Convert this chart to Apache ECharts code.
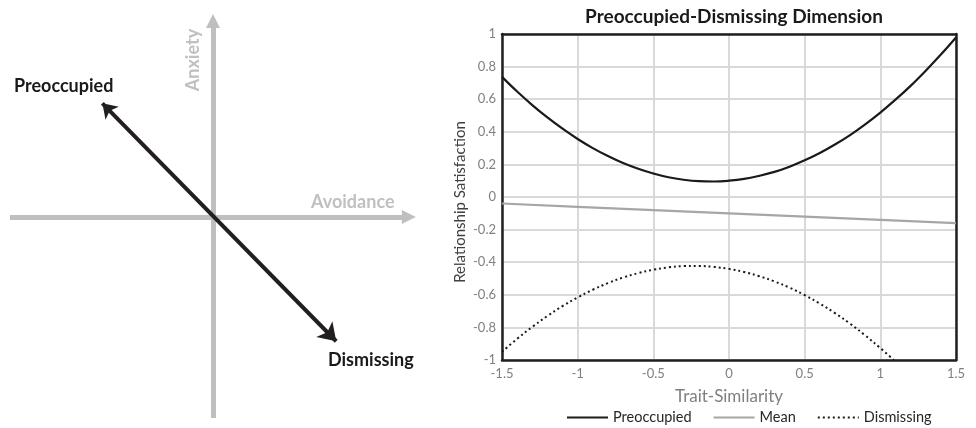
<!DOCTYPE html>
<html>
<head>
<meta charset="utf-8">
<script src="https://cdn.jsdelivr.net/npm/echarts@6/dist/echarts.min.js"></script>
<style>
html,body{margin:0;padding:0;background:#fff;}
#c{width:976px;height:428px;}
</style>
</head>
<body>
<div id="c"></div>
<script>
// ---- Data ----
var xValues = [-1.5, -1.4, -1.3, -1.2, -1.1, -1.0, -0.9, -0.8, -0.7, -0.6, -0.5, -0.4, -0.3, -0.2, -0.1,
               0, 0.1, 0.2, 0.3, 0.4, 0.5, 0.6, 0.7, 0.8, 0.9, 1.0, 1.1, 1.2, 1.3, 1.4, 1.5];
var preoccupied = [0.737, 0.647, 0.564, 0.488, 0.419, 0.356, 0.300, 0.251, 0.208, 0.173, 0.144, 0.121, 0.106, 0.097, 0.095,
                   0.100, 0.111, 0.130, 0.154, 0.186, 0.225, 0.270, 0.322, 0.380, 0.446, 0.518, 0.597, 0.682, 0.775, 0.874, 0.979];
var meanX = [-1.5, -1, -0.5, 0, 0.5, 1, 1.5];
var meanVals = [-0.04, -0.06, -0.08, -0.10, -0.12, -0.14, -0.16];
var dismissX = [-1.5, -1.4, -1.3, -1.2, -1.1, -1.0, -0.9, -0.8, -0.7, -0.6, -0.5, -0.4, -0.3, -0.2, -0.1,
                0, 0.1, 0.2, 0.3, 0.4, 0.5, 0.6, 0.7, 0.8, 0.9, 1.0, 1.09];
var dismissing = [-0.950, -0.870, -0.797, -0.730, -0.669, -0.616, -0.569, -0.528, -0.494, -0.467, -0.446, -0.432, -0.424, -0.423, -0.429,
                  -0.441, -0.460, -0.486, -0.518, -0.556, -0.602, -0.654, -0.712, -0.777, -0.849, -0.927, -1.0];
var xTickLabels = ['-1.5', '-1', '-0.5', '0', '0.5', '1', '1.5'];
var yTickLabels = ['-1', '-0.8', '-0.6', '-0.4', '-0.2', '0', '0.2', '0.4', '0.6', '0.8', '1'];
var seriesNames = ['Preoccupied', 'Mean', 'Dismissing'];

// Left conceptual diagram (logical coordinates, origin = centre of the two dimensions)
var avoidanceAxis = [[-1, 0], [0.965, 0]];
var anxietyAxis = [[0, -0.99], [0, 0.965]];
var dimensionArrow = [[-0.545, 0.56], [0.607, -0.612]];

function pairs(xs, ys) { return xs.map(function (x, i) { return [x, ys[i]]; }); }

var FONT = 'Lato';
var FRAME = '#231f20';
var frameAxis = {show: true, onZero: false, lineStyle: {color: FRAME, width: 2.5}};
var chart = echarts.init(document.getElementById('c'), null, {renderer: 'canvas'});
chart.setOption({
  animation: false,
  backgroundColor: '#ffffff',
  textStyle: {fontFamily: FONT},
  title: {
    text: 'Preoccupied-Dismissing Dimension',
    left: 729, top: 2, textAlign: 'center',
    textStyle: {fontFamily: FONT, fontWeight: 'bold', fontSize: 19, color: '#1a1a1a'}
  },
  legend: {
    data: seriesNames,
    left: 566, top: 410, padding: 0,
    itemWidth: 41, itemHeight: 10, itemGap: 21,
    itemStyle: {opacity: 0},
    textStyle: {fontFamily: FONT, fontSize: 14.5, color: '#262626'}
  },
  grid: [
    {left: 502, top: 34, width: 454, height: 326, show: false},
    {left: 10, top: 14, width: 406, height: 406, show: false}
  ],
  xAxis: [
    {
      gridIndex: 0, type: 'value', min: -1.5, max: 1.5, interval: 0.5,
      name: 'Trait-Similarity', nameLocation: 'middle', nameGap: 28,
      nameTextStyle: {fontFamily: FONT, fontSize: 17, color: '#808080'},
      axisLine: frameAxis, axisTick: {show: false},
      axisLabel: {
        margin: 7, color: '#808080', fontSize: 13, fontFamily: FONT,
        formatter: function (v) { var i = Math.round((v + 1.5) / 0.5); return xTickLabels[i]; }
      },
      splitLine: {show: true, lineStyle: {color: '#d9d9d9', width: 2}}, z: 3
    },
    {gridIndex: 1, type: 'value', min: -1, max: 1, show: false},
    {
      gridIndex: 0, type: 'value', min: -1.5, max: 1.5, position: 'top',
      axisLine: frameAxis, axisTick: {show: false}, axisLabel: {show: false}, splitLine: {show: false}, z: 3
    }
  ],
  yAxis: [
    {
      gridIndex: 0, type: 'value', min: -1, max: 1, interval: 0.2,
      name: 'Relationship Satisfaction', nameLocation: 'middle', nameGap: 34,
      nameTextStyle: {fontFamily: FONT, fontSize: 15, color: '#404040', padding: [0, 10, 0, 0]},
      axisLine: frameAxis, axisTick: {show: false},
      axisLabel: {
        margin: 6, color: '#808080', fontSize: 13, fontFamily: FONT,
        formatter: function (v) { var i = Math.round((v + 1) / 0.2); return yTickLabels[i]; }
      },
      splitLine: {show: true, lineStyle: {color: '#d9d9d9', width: 2}}, z: 3
    },
    {gridIndex: 1, type: 'value', min: -1, max: 1, show: false},
    {
      gridIndex: 0, type: 'value', min: -1, max: 1, position: 'right',
      axisLine: frameAxis, axisTick: {show: false}, axisLabel: {show: false}, splitLine: {show: false}, z: 3
    }
  ],
  series: [
    {
      name: seriesNames[0], type: 'line', xAxisIndex: 0, yAxisIndex: 0,
      data: pairs(xValues, preoccupied), smooth: 0.4, symbol: 'none',
      lineStyle: {color: '#1a1a1a', width: 2.2}, itemStyle: {color: '#1a1a1a'}, z: 5
    },
    {
      name: seriesNames[1], type: 'line', xAxisIndex: 0, yAxisIndex: 0,
      data: pairs(meanX, meanVals), smooth: false, symbol: 'none',
      lineStyle: {color: '#a6a6a6', width: 2.2}, itemStyle: {color: '#a6a6a6'}, z: 4
    },
    {
      name: seriesNames[2], type: 'line', xAxisIndex: 0, yAxisIndex: 0,
      data: pairs(dismissX, dismissing), smooth: 0.4, symbol: 'none',
      lineStyle: {color: '#1a1a1a', width: 2, type: [2, 3]}, itemStyle: {color: '#1a1a1a'}, z: 5
    },
    {
      type: 'lines', coordinateSystem: 'cartesian2d', xAxisIndex: 1, yAxisIndex: 1,
      symbol: ['none', 'triangle'], symbolSize: [15, 14],
      lineStyle: {color: '#bfbfbf', width: 5, opacity: 1, curveness: 0},
      data: [{coords: avoidanceAxis}, {coords: anxietyAxis}], z: 2
    },
    {
      type: 'lines', coordinateSystem: 'cartesian2d', xAxisIndex: 1, yAxisIndex: 1,
      symbol: ['arrow', 'arrow'], symbolSize: [14, 17],
      lineStyle: {color: '#231f20', width: 4, opacity: 1, curveness: 0},
      data: [{coords: dimensionArrow}], z: 3
    }
  ],
  graphic: [
    {type: 'text', x: 14, y: 86, style: {text: 'Preoccupied', font: 'bold 18px ' + FONT, fill: '#1a1a1a', verticalAlign: 'middle'}},
    {type: 'text', x: 328, y: 360, style: {text: 'Dismissing', font: 'bold 18px ' + FONT, fill: '#1a1a1a', verticalAlign: 'middle'}},
    {type: 'text', x: 311, y: 202, style: {text: 'Avoidance', font: 'bold 18px ' + FONT, fill: '#c0c0c0', verticalAlign: 'middle'}},
    {type: 'text', x: 193, y: 60, rotation: Math.PI / 2, style: {text: 'Anxiety', font: 'bold 18px ' + FONT, fill: '#c0c0c0', align: 'center', verticalAlign: 'middle'}}
  ]
});
</script>
</body>
</html>
